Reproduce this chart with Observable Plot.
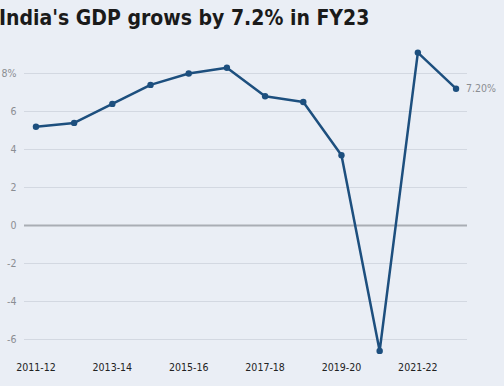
<!DOCTYPE html>
<html>
<head>
<meta charset="utf-8">
<script src="https://cdn.jsdelivr.net/npm/d3@7"></script>
<script src="https://cdn.jsdelivr.net/npm/@observablehq/plot@0.6"></script>
<style>
  html, body { margin: 0; padding: 0; background: #eaeef5; }
  body { width: 504px; height: 386px; overflow: hidden; font-family: "Liberation Sans Narrow", "DejaVu Sans Condensed", "Roboto Condensed", "Liberation Sans", sans-serif; }
  #title { height: 40px; box-sizing: border-box; padding: 6px 0 0 0; margin-left: -1px; font-size: 21px; font-weight: bold; color: #1a1a1a; white-space: nowrap; font-stretch: condensed; }
  #chart svg { display: block; }
</style>
</head>
<body>
<div id="title">India's GDP grows by 7.2% in FY23</div>
<div id="chart"></div>
<script>
const years = ["2011-12","2012-13","2013-14","2014-15","2015-16","2016-17","2017-18","2018-19","2019-20","2020-21","2021-22","2022-23"];
const growth = [5.2, 5.4, 6.4, 7.4, 8.0, 8.3, 6.8, 6.5, 3.7, -6.6, 9.1, 7.2];
const yTicks = [-6, -4, -2, 0, 2, 4, 6, 8];
const xTickIdx = [0, 2, 4, 6, 8, 10];
const lastLabel = "7.20%";

const data = years.map((y, i) => ({i, year: y, v: growth[i]}));
const fontFam = '"Liberation Sans Narrow", "DejaVu Sans Condensed", "Liberation Sans", sans-serif';

const chart = Plot.plot({
  width: 504,
  height: 346,
  marginLeft: 24,
  marginRight: 37,
  marginTop: 4.5,
  marginBottom: 28,
  style: { background: "transparent", fontFamily: fontFam, overflow: "visible" },
  x: { domain: [-0.3, 11.3], axis: null },
  y: { domain: [-7, 9.5], axis: null },
  marks: [
    Plot.ruleY(yTicks.filter(d => d !== 0), { stroke: "#d3d8e1", strokeWidth: 1 }),
    Plot.ruleY([0], { stroke: "#a9adb4", strokeWidth: 2 }),
    Plot.axisY(yTicks, {
      tickSize: 0, tickPadding: 8, fill: "#8a8d92", fontSize: 10.5,
      tickFormat: d => d === 8 ? "8%" : String(d), label: null
    }),
    Plot.axisX(xTickIdx, {
      tickSize: 0, tickPadding: 5, fill: "#222", fontSize: 10.5,
      tickFormat: i => years[i], label: null
    }),
    Plot.line(data, { x: "i", y: "v", stroke: "#1d4f7e", strokeWidth: 2.5, strokeLinejoin: "round" }),
    Plot.dot(data, { x: "i", y: "v", fill: "#1d4f7e", r: 3.2 }),
    Plot.text([data[data.length - 1]], {
      x: "i", y: "v", text: () => lastLabel, dx: 10, textAnchor: "start",
      fill: "#8a8d92", fontSize: 10.5
    })
  ]
});
document.getElementById("chart").appendChild(chart);
</script>
</body>
</html>
